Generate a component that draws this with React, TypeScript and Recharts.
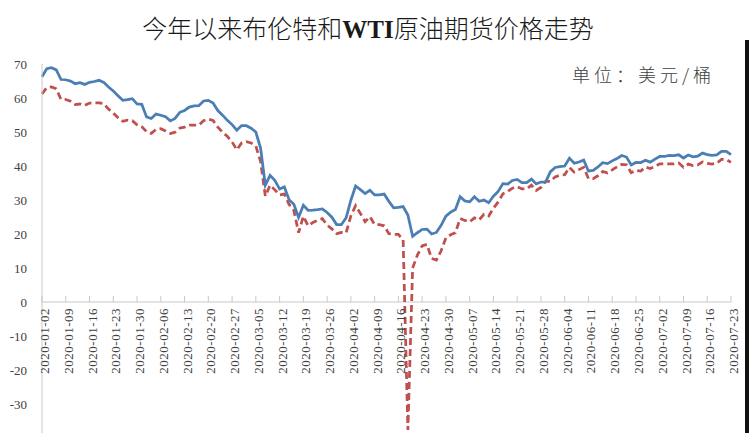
import React from "react";
import { LineChart, Line, XAxis, YAxis, ReferenceLine, ReferenceDot } from "recharts";

const dates = [
  "2020-01-02","2020-01-03","2020-01-06","2020-01-07","2020-01-08","2020-01-09","2020-01-10","2020-01-13","2020-01-14","2020-01-15","2020-01-16","2020-01-17","2020-01-20","2020-01-21","2020-01-22","2020-01-23","2020-01-24","2020-01-27","2020-01-28","2020-01-29","2020-01-30","2020-01-31",
  "2020-02-03","2020-02-04","2020-02-05","2020-02-06","2020-02-07","2020-02-10","2020-02-11","2020-02-12","2020-02-13","2020-02-14","2020-02-17","2020-02-18","2020-02-19","2020-02-20","2020-02-21","2020-02-24","2020-02-25","2020-02-26","2020-02-27","2020-02-28",
  "2020-03-02","2020-03-03","2020-03-04","2020-03-05","2020-03-06","2020-03-09","2020-03-10","2020-03-11","2020-03-12","2020-03-13","2020-03-16","2020-03-17","2020-03-18","2020-03-19","2020-03-20","2020-03-23","2020-03-24","2020-03-25","2020-03-26","2020-03-27","2020-03-30","2020-03-31",
  "2020-04-01","2020-04-02","2020-04-03","2020-04-06","2020-04-07","2020-04-08","2020-04-09","2020-04-10","2020-04-13","2020-04-14","2020-04-15","2020-04-16","2020-04-17","2020-04-20","2020-04-21","2020-04-22","2020-04-23","2020-04-24","2020-04-27","2020-04-28","2020-04-29","2020-04-30",
  "2020-05-01","2020-05-04","2020-05-05","2020-05-06","2020-05-07","2020-05-08","2020-05-11","2020-05-12","2020-05-13","2020-05-14","2020-05-15","2020-05-18","2020-05-19","2020-05-20","2020-05-21","2020-05-22","2020-05-25","2020-05-26","2020-05-27","2020-05-28","2020-05-29",
  "2020-06-01","2020-06-02","2020-06-03","2020-06-04","2020-06-05","2020-06-08","2020-06-09","2020-06-10","2020-06-11","2020-06-12","2020-06-15","2020-06-16","2020-06-17","2020-06-18","2020-06-19","2020-06-22","2020-06-23","2020-06-24","2020-06-25","2020-06-26","2020-06-29","2020-06-30",
  "2020-07-01","2020-07-02","2020-07-03","2020-07-06","2020-07-07","2020-07-08","2020-07-09","2020-07-10","2020-07-13","2020-07-14","2020-07-15","2020-07-16","2020-07-17","2020-07-20","2020-07-21","2020-07-22","2020-07-23"
];

const brent = [
  66.25,68.6,68.91,68.27,65.44,65.37,64.98,64.2,64.49,64.0,64.62,64.85,65.2,64.59,63.21,62.04,60.69,59.32,59.51,59.81,58.29,58.16,
  54.45,53.96,55.28,54.93,54.47,53.27,54.01,55.79,56.34,57.32,57.67,57.75,59.12,59.31,58.5,56.3,54.95,53.43,52.18,50.52,
  51.9,51.86,51.13,49.99,45.27,34.36,37.22,35.79,33.22,33.85,30.05,28.73,24.88,28.47,26.98,27.03,27.15,27.39,26.34,24.93,22.76,22.74,
  24.74,29.94,34.11,33.05,31.87,32.84,31.48,31.48,31.74,29.6,27.69,27.82,28.08,25.57,19.33,20.37,21.33,21.44,19.99,20.46,22.54,25.27,
  26.44,27.2,30.97,29.72,29.46,30.97,29.63,29.98,29.19,31.13,32.5,34.81,34.65,35.75,36.06,35.13,35.13,36.17,34.74,35.29,35.33,
  38.32,39.57,39.79,39.99,42.3,40.8,41.18,41.73,38.55,38.73,39.72,40.96,40.71,41.51,42.19,43.08,42.63,40.31,41.05,41.02,41.71,41.15,
  42.03,42.8,42.8,43.1,43.08,43.29,42.35,43.24,42.72,42.9,43.79,43.37,43.14,43.28,44.32,44.29,43.31
];

const wti = [
  61.18,63.05,63.27,62.7,59.61,59.56,59.04,58.08,58.23,57.81,58.52,58.54,58.54,58.34,56.74,55.59,54.19,53.14,53.48,53.33,52.14,51.56,
  50.11,49.61,50.75,50.95,50.32,49.57,49.94,51.17,51.42,52.05,52.05,52.05,53.29,53.78,53.38,51.43,49.9,48.73,47.09,44.76,
  46.75,47.18,46.78,45.9,41.28,31.13,34.36,32.98,31.5,31.73,28.7,26.95,20.37,25.22,22.43,23.36,24.01,24.49,22.6,21.51,20.09,20.48,
  20.31,25.32,28.34,26.08,23.63,25.09,22.76,22.76,22.41,20.11,19.87,19.87,18.27,-37.63,10.01,13.78,16.5,16.94,12.78,12.34,15.06,18.84,
  19.78,20.39,24.56,23.99,23.55,24.74,24.14,25.78,25.29,27.56,29.43,31.82,32.5,33.49,33.92,33.25,33.25,34.35,32.81,33.71,35.49,
  35.44,36.81,37.29,37.41,39.55,38.19,38.94,39.6,36.34,36.26,37.12,38.38,37.96,38.84,39.75,40.46,40.37,38.01,38.72,38.49,39.7,39.27,
  39.82,40.65,40.65,40.63,40.62,40.9,39.62,40.55,40.1,40.29,41.2,40.75,40.59,40.81,41.96,41.9,41.07
];

const tickDates = [
  "2020-01-02","2020-01-09","2020-01-16","2020-01-23","2020-01-30","2020-02-06","2020-02-13","2020-02-20","2020-02-27",
  "2020-03-05","2020-03-12","2020-03-19","2020-03-26","2020-04-02","2020-04-09","2020-04-16","2020-04-23","2020-04-30",
  "2020-05-07","2020-05-14","2020-05-21","2020-05-28","2020-06-04","2020-06-11","2020-06-18","2020-06-25","2020-07-02",
  "2020-07-09","2020-07-16","2020-07-23"
];

const yTicks = [-40, -30, -20, -10, 0, 10, 20, 30, 40, 50, 60, 70];

const titleA = "今年以来布伦特和";
const titleB = "WTI";
const titleC = "原油期货价格走势";
const unitText = "单位：美元/桶";
const legendNames = ["布伦特原油期货结算价", "WTI原油期货结算价"];

const data = dates.map((d, i) => ({ date: d, brent: brent[i], wti: wti[i] }));

const serif = "'Liberation Serif', 'Times New Roman', serif";
const cjk = "'Noto Sans CJK SC', sans-serif";

const TickMark = (props: any) => {
  const { cx, cy, label } = props;
  if (cx == null || cy == null) return null;
  return (
    <g>
      <line x1={cx} y1={cy - 6} x2={cx} y2={cy} stroke="#c8c8c8" strokeWidth={1} />
      <text
        x={cx + 2.5}
        y={cy + 6}
        dy="0.35em"
        transform={`rotate(-90, ${cx + 2.5}, ${cy + 6})`}
        textAnchor="end"
        fontFamily={serif}
        fontSize={13}
        letterSpacing={0.5}
        fill="#404040"
      >
        {label}
      </text>
    </g>
  );
};

export default function App() {
  return (
    <div
      style={{
        position: "absolute",
        left: 0,
        top: 0,
        width: 750,
        height: 433,
        overflow: "hidden",
        background: "#ffffff",
      }}
    >
      <LineChart
        width={750}
        height={480}
        data={data}
        margin={{ top: 64, right: 19, left: 0, bottom: 42 }}
      >
        <XAxis dataKey="date" type="category" hide />
        <YAxis
          width={42}
          domain={[-40, 70]}
          ticks={yTicks}
          interval={0}
          tickLine={false}
          tickSize={0}
          tickMargin={15}
          axisLine={{ stroke: "#c8c8c8", strokeWidth: 1 }}
          tick={{ fontFamily: serif, fontSize: 13, fill: "#404040" }}
        />
        <ReferenceLine y={0} stroke="#c8c8c8" strokeWidth={1} />
        {tickDates.map((d) => (
          <ReferenceDot
            key={d}
            x={d}
            y={0}
            r={0}
            ifOverflow="visible"
            shape={(p: any) => <TickMark {...p} label={d} />}
          />
        ))}
        <Line
          type="linear"
          dataKey="wti"
          stroke="#c0504d"
          strokeWidth={2.75}
          strokeDasharray="7 4"
          dot={false}
          isAnimationActive={false}
        />
        <Line
          type="linear"
          dataKey="brent"
          stroke="#4a7eb5"
          strokeWidth={2.75}
          dot={false}
          isAnimationActive={false}
        />
      </LineChart>

      <div
        style={{
          position: "absolute",
          left: 0,
          top: 12,
          width: 736,
          height: 30,
          lineHeight: "30px",
          textAlign: "center",
          fontFamily: cjk,
          fontSize: 25,
          fontWeight: 300,
          color: "#1a1a1a",
          whiteSpace: "nowrap",
        }}
      >
        {titleA}
        <span style={{ fontFamily: serif, fontWeight: 700 }}>{titleB}</span>
        {titleC}
      </div>

      <div
        style={{
          position: "absolute",
          left: 572,
          top: 62,
          height: 24,
          lineHeight: "24px",
          fontFamily: cjk,
          fontSize: 18,
          fontWeight: 300,
          letterSpacing: 4,
          color: "#404040",
          whiteSpace: "nowrap",
        }}
      >
        {unitText}
      </div>

      <div
        style={{
          position: "absolute",
          left: 255,
          top: 430,
          fontFamily: cjk,
          fontSize: 13,
          lineHeight: "18px",
          color: "#595959",
          whiteSpace: "nowrap",
        }}
      >
        {legendNames[0]}
      </div>
      <div
        style={{
          position: "absolute",
          left: 475,
          top: 430,
          fontFamily: cjk,
          fontSize: 13,
          lineHeight: "18px",
          color: "#595959",
          whiteSpace: "nowrap",
        }}
      >
        {legendNames[1]}
      </div>

      <div
        style={{
          position: "absolute",
          left: 745,
          top: 40,
          width: 4,
          height: 393,
          background: "#111111",
        }}
      />
    </div>
  );
}
